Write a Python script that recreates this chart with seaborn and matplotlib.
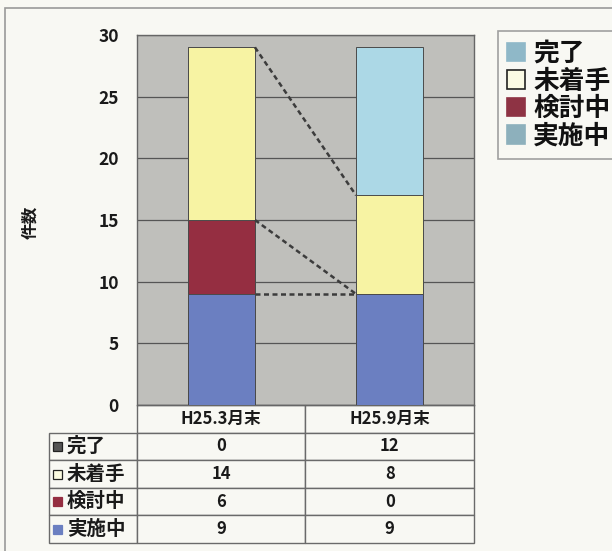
import matplotlib
matplotlib.use("Agg")
import matplotlib.pyplot as plt
import seaborn as sns
import numpy as np
from matplotlib.patches import Rectangle, Patch

# ---- data ----
categories = ["H25.3月末", "H25.9月末"]
series_names = ["完了", "未着手", "検討中", "実施中"]
kanryo = [0, 12]
michakushu = [14, 8]
kentochu = [6, 0]
jisshichu = [9, 9]
yticks = [0, 5, 10, 15, 20, 25, 30]

bar_colors = ["#ACD8E6", "#F7F3A3", "#952E41", "#6B7FC1"]
legend_colors = ["#8FB8C8", "#FAFAE4", "#8E3344", "#8DB0BC"]
table_marker_colors = ["#555555", "#FAFAE0", "#952E41", "#6B7FC1"]

BG = "#F8F8F3"
PLOT_BG = "#BFBFBB"

sns.set_style("white")
plt.rcParams['font.family'] = ['Noto Sans CJK JP', 'DejaVu Sans']

W, H = 612, 551
fig = plt.figure(figsize=(W / 100, H / 100), dpi=100, facecolor=BG)

# plot area in pixels
L, R, T, B = 137, 474, 35, 405
ax = fig.add_axes([L / W, 1 - B / H, (R - L) / W, (B - T) / H])
ax.set_facecolor(PLOT_BG)

# stacked values (bottom to top: 実施中, 検討中, 未着手, 完了)
stack = [jisshichu, kentochu, michakushu, kanryo]
cums = np.cumsum(np.array(stack, dtype=float), axis=0)
order_colors = [bar_colors[3], bar_colors[2], bar_colors[1], bar_colors[0]]

for i in range(len(stack) - 1, -1, -1):
    sns.barplot(x=categories, y=cums[i], color=order_colors[i], saturation=1,
                width=0.4, edgecolor="#4a4a4a", linewidth=0.7, ax=ax, zorder=3)

# series lines (dashed) between bars
bw = 0.4
for i in range(0, 3):
    a, b = cums[i][0], cums[i][1]
    ax.plot([0 + bw / 2, 1 - bw / 2], [a, b], linestyle=(0, (2.0, 1.4)),
            color="#3c3c3c", lw=1.8, zorder=4)

ax.set_ylim(0, 30)
ax.set_xlim(-0.5, 1.5)
ax.set_yticks(yticks)
ax.set_yticklabels([str(v) for v in yticks], fontsize=12.5, fontweight='bold', color="#1a1a1a")
ax.tick_params(axis='y', length=0, pad=13)
ax.set_xticks([])
ax.set_xlabel("")
ax.set_ylabel("")
ax.yaxis.grid(True, color="#555555", lw=0.9, zorder=1)
ax.set_axisbelow(True)
for s in ax.spines.values():
    s.set_color("#666666")
    s.set_linewidth(1.0)

# y label
fig.text(30 / W, 1 - 222 / H, "件数", rotation=90, ha='center', va='center',
         fontsize=12, fontweight='bold', color="#1a1a1a")

# ---- data table ----
TL, TT, TB = 49, 405, 543
cell_text = []
vals = [kanryo, michakushu, kentochu, jisshichu]
for name, v in zip(series_names, vals):
    cell_text.append([""] + [str(x) for x in v])
colw = [137 - TL, (R - L) / 2, (R - L) / 2]
tot = sum(colw)
colw = [c / tot for c in colw]
bbox = [(TL - L) / (R - L), (B - TB) / (B - T), (R - TL) / (R - L), (TB - TT) / (B - T)]
tbl = ax.table(cellText=cell_text, colLabels=[""] + categories, colWidths=colw,
               cellLoc='center', bbox=bbox)
tbl.auto_set_font_size(False)
tbl.set_fontsize(12)
for (r, c), cell in tbl.get_celld().items():
    cell.set_edgecolor("#6a6a6a")
    cell.set_linewidth(1.0)
    cell.set_facecolor(BG)
    cell.get_text().set_fontweight('bold')
    cell.get_text().set_color("#1a1a1a")
    if r == 0 and c == 0:
        cell.set_visible(False)

# row labels with markers
row_h = (TB - TT) / 5
for i, name in enumerate(series_names):
    cy = TT + row_h * (i + 1) + row_h / 2
    ms = 9
    ec = "#222222" if i in (0, 1) else table_marker_colors[i]
    fig.patches.append(Rectangle((53 / W, 1 - (cy + ms / 2) / H), ms / W, ms / H,
                                 facecolor=table_marker_colors[i], edgecolor=ec, lw=0.9,
                                 transform=fig.transFigure, figure=fig))
    fig.text(67 / W, 1 - cy / H, name, ha='left', va='center', fontsize=14,
             fontweight='bold', color="#1a1a1a")

# ---- legend ----
handles = []
for i, name in enumerate(series_names):
    ec = "#222222" if i == 1 else legend_colors[i]
    handles.append(Patch(facecolor=legend_colors[i], edgecolor=ec, lw=1.2, label=name))
leg = fig.legend(handles=handles, loc='upper left', bbox_to_anchor=(498 / W, 1 - 31 / H),
                 frameon=True, fancybox=False, edgecolor="#8a8a8a", facecolor=BG,
                 prop={'size': 18.5, 'weight': 'bold'},
                 handlelength=0.72, handleheight=0.72, handletextpad=0.3,
                 labelspacing=0.02, borderpad=0.35, borderaxespad=0)
leg.get_frame().set_linewidth(1.2)
for t in leg.get_texts():
    t.set_color("#111111")

# outer chart border
fig.patches.append(Rectangle((5 / W, -0.1), 2, 1.1 - 8 / H, fill=False, edgecolor="#9a9a9a",
                             lw=1.2, transform=fig.transFigure, figure=fig))

fig.savefig("out.png", dpi=100, facecolor=BG)
